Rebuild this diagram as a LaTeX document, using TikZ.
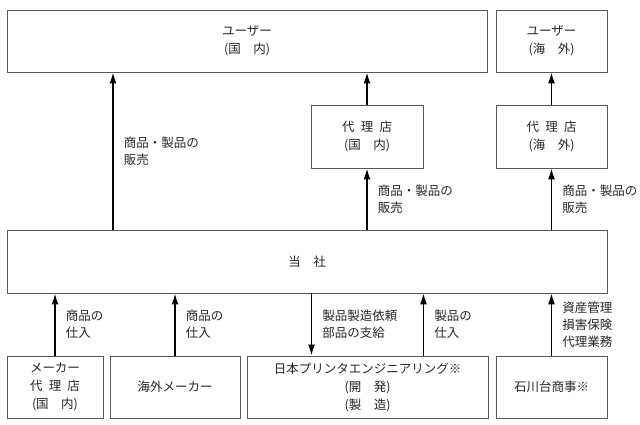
\documentclass[tikz,border=0pt]{standalone}
\usepackage{fontspec}
\setmainfont{Noto Sans CJK JP}
\usetikzlibrary{arrows.meta}

\begin{document}
\begin{tikzpicture}[x=1pt,y=-1pt]
  \tikzset{box/.style = {shape=rectangle,draw=black!65,line width=0.8pt,align=center,inner sep=0pt,font=\fontsize{12.5}{18}\selectfont,text=black!85}}
  \tikzset{flow/.style = {-{Latex[length=11pt,width=7pt]},line width=1.6pt}}
  \tikzset{tag/.style = {right=9pt,inner sep=1pt,align=left,font=\fontsize{12.5}{17}\selectfont,text=black!85}}
  \useasboundingbox (0,0) rectangle (640,424);
	% users and agents
	\node[box,minimum width=480pt,minimum height=62pt] (userd) at (247,41) {ユーザー\\(国　内)};
	\node[box,minimum width=111pt,minimum height=62pt] (usero) at (551.5,41) {ユーザー\\(海　外)};
	\node[box,minimum width=112pt,minimum height=63pt] (agentd) at (367,136.5) {代\enspace 理\enspace 店\\(国　内)};
	\node[box,minimum width=111pt,minimum height=63pt] (agento) at (551.5,136.5) {代\enspace 理\enspace 店\\(海　外)};
	% company
	\node[box,minimum width=600pt,minimum height=63pt] (tosha) at (307,261.5) {当　社};
	% suppliers
	\node[box,minimum width=96pt,minimum height=62pt] (maker) at (55,387) {メーカー\\代\enspace 理\enspace 店\\(国　内)};
	\node[box,minimum width=130pt,minimum height=62pt] (kaigai) at (175,387) {海外メーカー};
	\node[box,minimum width=241pt,minimum height=62pt] (nihon) at (367.5,387) {日本プリンタエンジニアリング※\\(開　発)\\(製　造)};
	\node[box,minimum width=111pt,minimum height=62pt] (ishikawa) at (551.5,387) {石川台商事※};

    \draw[flow] ([xshift=-134pt]userd.south |- tosha.north) -- node[tag]{商品・製品の\\販売} ([xshift=-134pt]userd.south);
    \foreach \from/\to in {agentd/userd,agento/usero}
    \draw[flow] (\from.north) -- (\from.north |- \to.south);
    \foreach \to/\r in {agentd/{商品・製品の\\販売},agento/{商品・製品の\\販売}}
    \draw[flow] (\to.south |- tosha.north) -- node[tag]{\r} (\to.south);

    \foreach \from/\r in {maker/{商品の\\仕入},kaigai/{商品の\\仕入},ishikawa/{資産管理\\損害保険\\代理業務}}
    \draw[flow] (\from.north) -- node[tag]{\r} (\from.north |- tosha.south);
    \draw[flow] ([xshift=-56pt]nihon.north |- tosha.south) -- node[tag]{製品製造依頼\\部品の支給} ([xshift=-56pt]nihon.north);
    \draw[flow] ([xshift=56pt]nihon.north) -- node[tag]{製品の\\仕入} ([xshift=56pt]nihon.north |- tosha.south);
   
\end{tikzpicture}
\end{document}
